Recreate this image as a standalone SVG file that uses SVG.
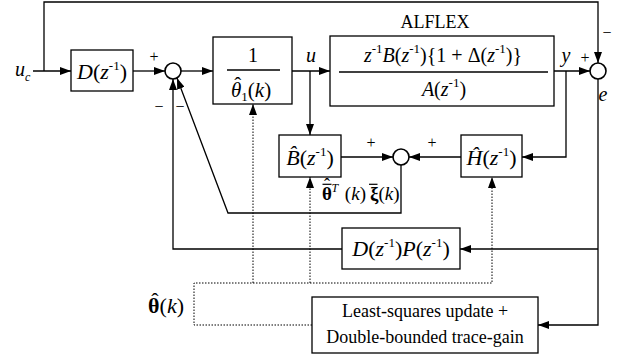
<svg xmlns="http://www.w3.org/2000/svg" width="623" height="358" viewBox="0 0 623 358">
<style>
text{font-family:"Liberation Serif","Times New Roman",serif;fill:#000}
.i{font-style:italic}
.b{font-weight:bold}
.box{fill:#fff;stroke:#000;stroke-width:1.3}
.sum{fill:#fff;stroke:#000;stroke-width:1.6}
.ln{fill:none;stroke:#000;stroke-width:1.3}
.bar{stroke:#000;stroke-width:1.2}
.dot{fill:none;stroke:#000;stroke-width:1;stroke-dasharray:1.5 1.5}
.sg{font-size:16px}
</style>
<defs>
<marker id="ah" viewBox="0 0 11 8" refX="11" refY="4" markerWidth="11" markerHeight="8" markerUnits="userSpaceOnUse" orient="auto">
<path d="M0,0 L11,4 L0,8 Z" fill="#000"/>
</marker>
</defs>
<g id="connectors">
<path class="ln" d="M44,71 V2 H598 V63" marker-end="url(#ah)"/>
<path class="ln" d="M33,71 H71" marker-end="url(#ah)"/>
<path class="ln" d="M133,71 H165" marker-end="url(#ah)"/>
<path class="ln" d="M181,71 H213" marker-end="url(#ah)"/>
<path class="ln" d="M292,71 H330" marker-end="url(#ah)"/>
<path class="ln" d="M310,71 V135" marker-end="url(#ah)"/>
<path class="ln" d="M554,71 H590" marker-end="url(#ah)"/>
<path class="ln" d="M566,71 V157 H522" marker-end="url(#ah)"/>
<path class="ln" d="M341,157 H393" marker-end="url(#ah)"/>
<path class="ln" d="M461,157 H409" marker-end="url(#ah)"/>
<path class="ln" d="M401,165 V213 H228 L177,78" marker-end="url(#ah)"/>
<path class="ln" d="M598,79 V325 H538" marker-end="url(#ah)"/>
<path class="ln" d="M598,249 H460" marker-end="url(#ah)"/>
<path class="ln" d="M342,249 H173 V79" marker-end="url(#ah)"/>
<path class="dot" d="M312,325 H194 V283 H492 V177" marker-end="url(#ah)"/>
<path class="dot" d="M253,283 V104" marker-end="url(#ah)"/>
<path class="dot" d="M310,283 V177" marker-end="url(#ah)"/>
</g>
<g id="sum1"><circle class="sum" cx="173" cy="71" r="8"/></g>
<g id="sum2"><circle class="sum" cx="401" cy="157" r="8"/></g>
<g id="sum3"><circle class="sum" cx="598" cy="71" r="8"/></g>
<g id="labels">
<text x="15" y="76" font-size="20" class="i">u<tspan dy="5" font-size="12">c</tspan></text>
<text x="154" y="62" class="sg" text-anchor="middle">+</text>
<text x="159" y="112" class="sg" text-anchor="middle">−</text>
<text x="180" y="112" class="sg" text-anchor="middle">−</text>
<text x="311" y="62" font-size="20" class="i" text-anchor="middle">u</text>
<text x="566" y="62" font-size="20" class="i" text-anchor="middle">y</text>
<text x="585" y="63" class="sg" text-anchor="middle">+</text>
<text x="607" y="38" class="sg" text-anchor="middle">−</text>
<text x="603" y="101" font-size="20" class="i" text-anchor="middle">e</text>
<text x="371" y="148" class="sg" text-anchor="middle">+</text>
<text x="432" y="148" class="sg" text-anchor="middle">+</text>
</g>
<g id="theta_xi">
<text x="322" y="200" font-size="19"><tspan class="b">θ</tspan><tspan dx="-8" dy="-9" font-size="18">ˆ</tspan><tspan dx="1.5" dy="1" font-size="12" class="i">T</tspan><tspan dy="8" dx="2"> (</tspan><tspan class="i">k</tspan>)</text>
<text x="399.5" y="200" font-size="19" text-anchor="end"><tspan class="b">ξ</tspan>(<tspan class="i">k</tspan>)</text>
<line class="bar" x1="322.5" y1="184.3" x2="331.5" y2="184.3"/>
<line class="bar" x1="369" y1="184.3" x2="377.5" y2="184.3"/>
</g>
<g id="theta_hat_label">
<text x="148" y="313" font-size="22"><tspan class="b">θ</tspan><tspan dx="-8.2" dy="-5">ˆ</tspan><tspan dx="1" dy="5">(</tspan><tspan class="i">k</tspan>)</text>
</g>
<g id="D">
<rect class="box" x="71" y="50" width="62" height="41"/>
<text x="102" y="79" font-size="22" text-anchor="middle"><tspan class="i">D</tspan>(<tspan class="i">z</tspan><tspan dy="-9" font-size="13">-1</tspan><tspan dy="9">)</tspan></text>
</g>
<g id="inv_theta1">
<rect class="box" x="213" y="37" width="79" height="67"/>
<text x="253" y="62" font-size="20" text-anchor="middle">1</text>
<line class="ln" x1="227" y1="70" x2="280" y2="70"/>
<text x="231" y="97" font-size="21"><tspan class="i">θ</tspan><tspan dx="-7" dy="-5">ˆ</tspan><tspan dx="0" dy="9" font-size="13">1</tspan><tspan dy="-4">(</tspan><tspan class="i">k</tspan>)</text>
</g>
<g id="plant">
<text x="435" y="28" font-size="18" text-anchor="middle">ALFLEX</text>
<rect class="box" x="330" y="36" width="224" height="70"/>
<text x="443" y="62" font-size="20" text-anchor="middle"><tspan class="i">z</tspan><tspan dy="-9" font-size="13">-1</tspan><tspan dy="9" class="i">B</tspan>(<tspan class="i">z</tspan><tspan dy="-9" font-size="13">-1</tspan><tspan dy="9">){1 + Δ(</tspan><tspan class="i">z</tspan><tspan dy="-9" font-size="13">-1</tspan><tspan dy="9">)}</tspan></text>
<line class="ln" x1="339" y1="72" x2="548" y2="72"/>
<text x="444" y="96" font-size="20" text-anchor="middle"><tspan class="i">A</tspan>(<tspan class="i">z</tspan><tspan dy="-9" font-size="13">-1</tspan><tspan dy="9">)</tspan></text>
</g>
<g id="Bhat">
<rect class="box" x="279" y="135" width="62" height="42"/>
<text x="310" y="165" font-size="22" text-anchor="middle"><tspan class="i">B̂</tspan>(<tspan class="i">z</tspan><tspan dy="-9" font-size="13">-1</tspan><tspan dy="9">)</tspan></text>
</g>
<g id="Hhat">
<rect class="box" x="461" y="135" width="61" height="42"/>
<text x="491.5" y="165" font-size="22" text-anchor="middle"><tspan class="i">Ĥ</tspan>(<tspan class="i">z</tspan><tspan dy="-9" font-size="13">-1</tspan><tspan dy="9">)</tspan></text>
</g>
<g id="DP">
<rect class="box" x="342" y="228" width="118" height="41"/>
<text x="401" y="256" font-size="22" text-anchor="middle"><tspan class="i">D</tspan>(<tspan class="i">z</tspan><tspan dy="-9" font-size="13">-1</tspan><tspan dy="9">)</tspan><tspan class="i">P</tspan>(<tspan class="i">z</tspan><tspan dy="-9" font-size="13">-1</tspan><tspan dy="9">)</tspan></text>
</g>
<g id="LS">
<rect class="box" x="312" y="297" width="226" height="56"/>
<text x="425" y="317" font-size="18" text-anchor="middle">Least-squares update +</text>
<text x="425" y="343" font-size="18" text-anchor="middle">Double-bounded trace-gain</text>
</g>
</svg>
